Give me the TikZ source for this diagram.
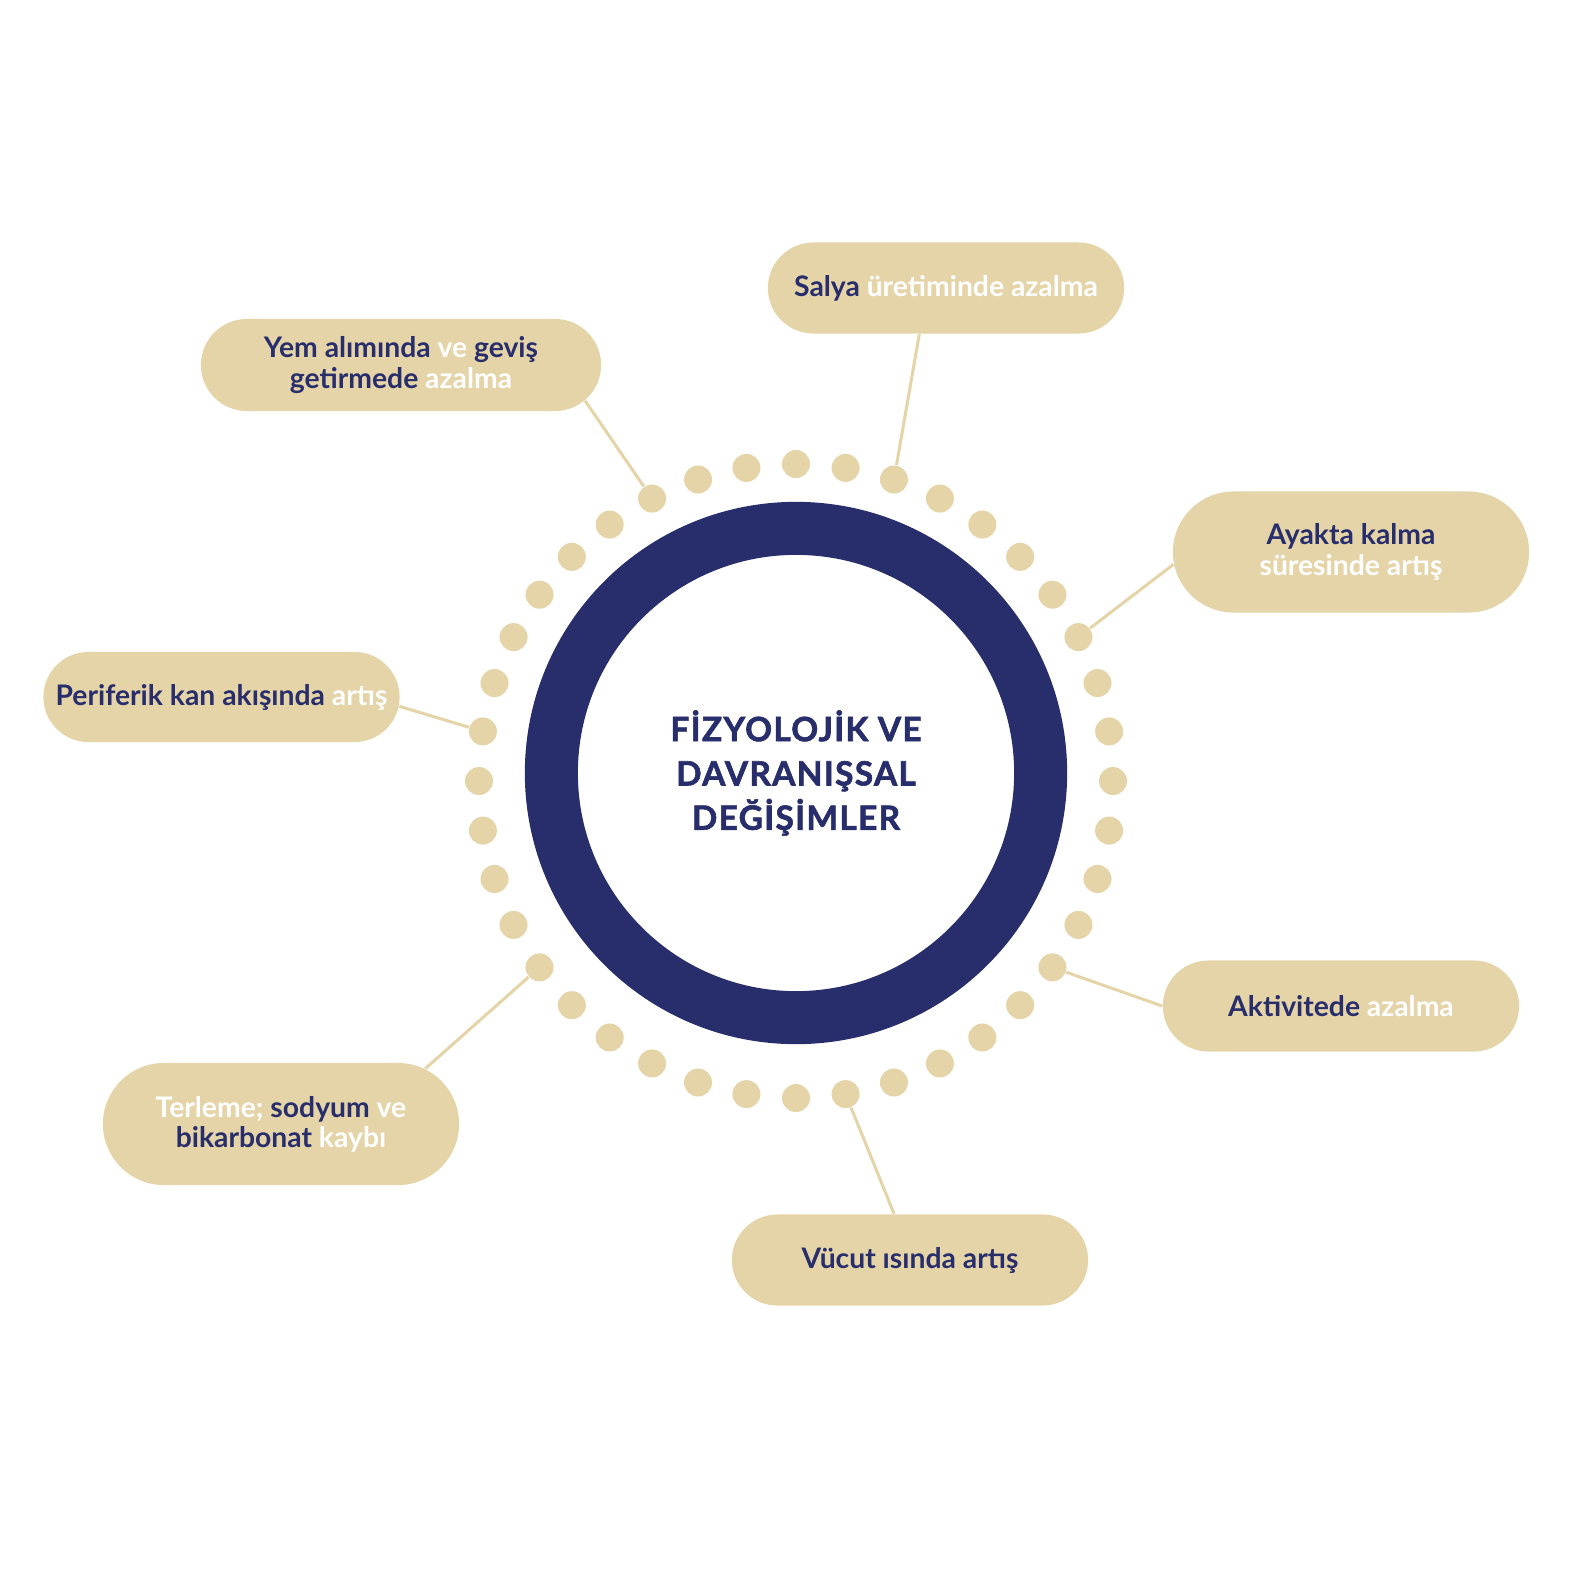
\documentclass[tikz,border=0pt]{standalone}
\usepackage{fontspec}
\setmainfont{Lato}
\usetikzlibrary{shapes.misc,calc}
\definecolor{navy}{HTML}{282E6B}
\definecolor{sand}{HTML}{E5D4A8}
\newcommand{\lite}[1]{\textcolor{white}{#1}}

\begin{document}
\begin{tikzpicture}[x=0.01cm,y=-0.01cm]
 \tikzstyle{pill}=[rounded rectangle, fill=sand, text=navy, align=center, inner sep=0pt, minimum width=3.56cm, minimum height=0.91cm, font=\fontsize{8.05}{8.6}\selectfont\bfseries]
 \tikzstyle{bead}=[circle, fill=sand, inner sep=0pt, minimum size=0.28cm]
 \tikzstyle{link}=[draw=sand, line width=0.85pt]
  \useasboundingbox[fill=white] (0,0) rectangle (1575,1575);
  \node[circle, draw=navy, line width=0.53cm, minimum size=4.89cm, inner sep=0pt, text=navy, align=center,
  font=\fontsize{9.5}{12.6}\selectfont\bfseries\addfontfeature{FakeBold=1.8,LetterSpace=4}] at (796,773) (core)
  {FİZYOLOJİK VE\\DAVRANIŞSAL\\DEĞİŞİMLER};
  \coordinate (mid) at (796,781);
  \foreach \a in {0,9,...,351}
    \node[bead] (dot\a) at ($(mid)+(-\a:317)$) {};
  \node[pill] at (946,288) (salya) {Salya \lite{üretiminde azalma}};
  \node[pill, minimum width=4cm, minimum height=0.92cm] at (401,365) (yem)
  {Yem alımında \lite{ve} geviş\\getirmede \lite{azalma}};
  \node[pill, minimum height=1.21cm] at (1351,552) (ayakta) {Ayakta kalma\\\lite{süresinde artış}};
  \node[pill, minimum height=0.9cm] at (221.5,697) (kan) {Periferik kan akışında \lite{artış}};
  \node[pill] at (1341,1006) (aktivite) {Aktivitede \lite{azalma}};
  \node[pill, minimum height=1.22cm] at (281,1124) (terleme) {\lite{Terleme;} sodyum \lite{ve}\\bikarbonat \lite{kaybı}};
  \node[pill] at (910,1260) (isi) {Vücut ısında artış};
  \draw[link] (dot72) -- (salya.240);
  \draw[link] (dot117) -- (yem.-11);
  \draw[link] (dot27) -- (ayakta.184);
  \draw[link] (dot171) -- (kan.-3);
  \draw[link] (dot324) -- (aktivite.180);
  \draw[link] (dot216) -- (terleme.21);
  \draw[link] (dot279) -- (isi.109);
\end{tikzpicture}
\end{document}
